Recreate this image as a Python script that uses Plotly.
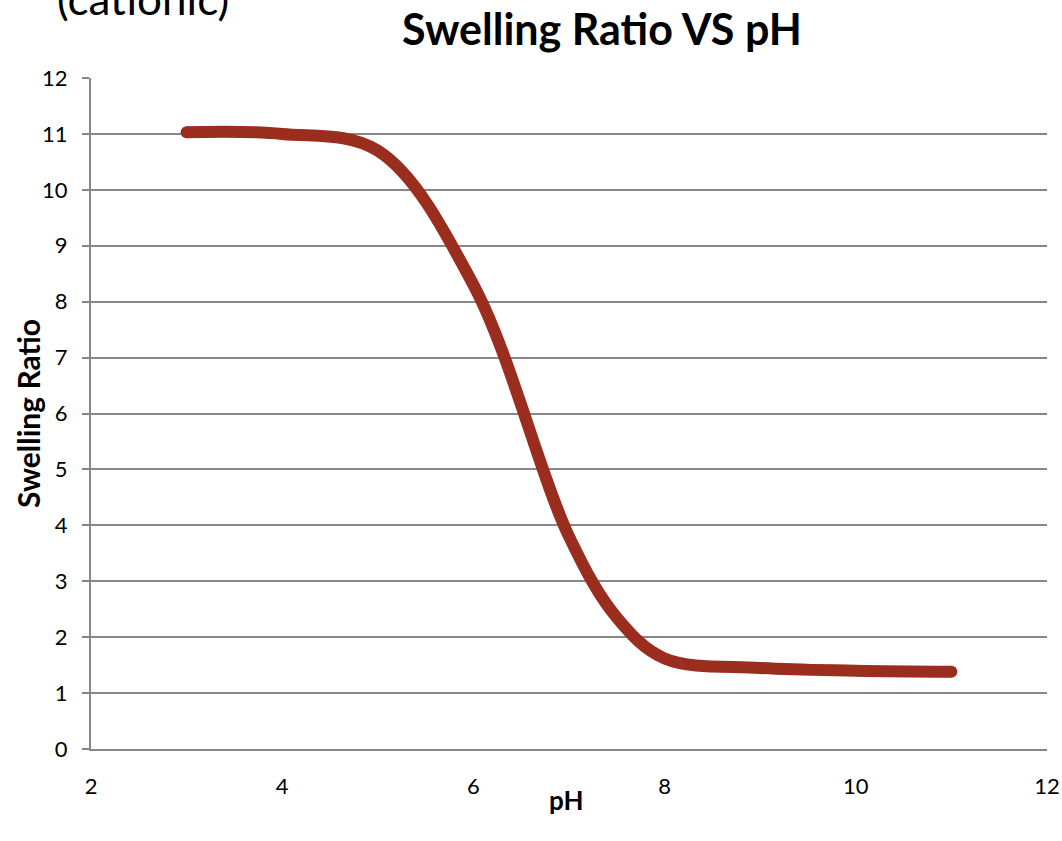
import plotly.graph_objects as go

ph = [3, 4, 5, 6, 7, 7.5, 8, 9, 10, 11]
swelling = [11.03, 11.0, 10.7, 8.3, 3.8, 2.35, 1.62, 1.45, 1.4, 1.38]

title_text = "Swelling Ratio VS pH"
x_title = "pH"
y_title = "Swelling Ratio"
corner_text = "(cationic)"

line_color = "#9B2D1F"
grid_color = "#878787"
font_family = "Lato, Liberation Sans, sans-serif"

fig = go.Figure()
fig.add_trace(go.Scatter(
    x=ph, y=swelling, mode="lines",
    line=dict(color=line_color, width=12, shape="spline", smoothing=1.0),
    showlegend=False, hoverinfo="x+y",
))
fig.add_trace(go.Scatter(
    x=[ph[0], ph[-1]], y=[swelling[0], swelling[-1]], mode="markers",
    marker=dict(size=12, color=line_color, opacity=1, line=dict(width=0)),
    showlegend=False, hoverinfo="skip",
))

fig.update_layout(
    width=1062, height=841,
    margin=dict(l=91, r=15, t=78, b=92, autoexpand=False),
    paper_bgcolor="white", plot_bgcolor="white",
    font=dict(family=font_family, color="black", size=22),
    showlegend=False,
    xaxis=dict(
        range=[2, 12], dtick=2, tick0=2, showgrid=False, zeroline=False,
        showline=True, linecolor=grid_color, linewidth=2, automargin=False,
        ticks="", ticklabelstandoff=17,
        tickfont=dict(size=22, family=font_family),
    ),
    yaxis=dict(
        range=[0, 12], dtick=1, tick0=0, showgrid=True, gridcolor=grid_color, gridwidth=2,
        zeroline=False, showline=True, linecolor=grid_color, linewidth=2, automargin=False,
        ticks="outside", ticklen=7, tickcolor=grid_color, tickwidth=2,
        ticklabelstandoff=10,
        tickfont=dict(size=22, family=font_family),
    ),
    annotations=[
        dict(text="<b>" + title_text + "</b>", xref="paper", yref="paper",
             x=(602 - 91) / 956, y=(749 - 28) / 671, xanchor="center", yanchor="middle",
             showarrow=False, font=dict(size=43, family=font_family, color="black")),
        dict(text=corner_text, xref="paper", yref="paper",
             x=(55 - 91) / 956, y=(749 + 2) / 671, xanchor="left", yanchor="middle",
             showarrow=False, font=dict(size=44, family=font_family, color="black")),
        dict(text="<b>" + x_title + "</b>", xref="paper", yref="paper",
             x=(566 - 91) / 956, y=(749 - 800) / 671, xanchor="center", yanchor="middle",
             showarrow=False, font=dict(size=26, family=font_family, color="black")),
        dict(text="<b>" + y_title + "</b>", xref="paper", yref="paper", textangle=-90,
             x=(28 - 91) / 956, y=(749 - 414) / 671, xanchor="center", yanchor="middle",
             showarrow=False, font=dict(size=30, family=font_family, color="black")),
    ],
)

fig.write_html("out.html")
